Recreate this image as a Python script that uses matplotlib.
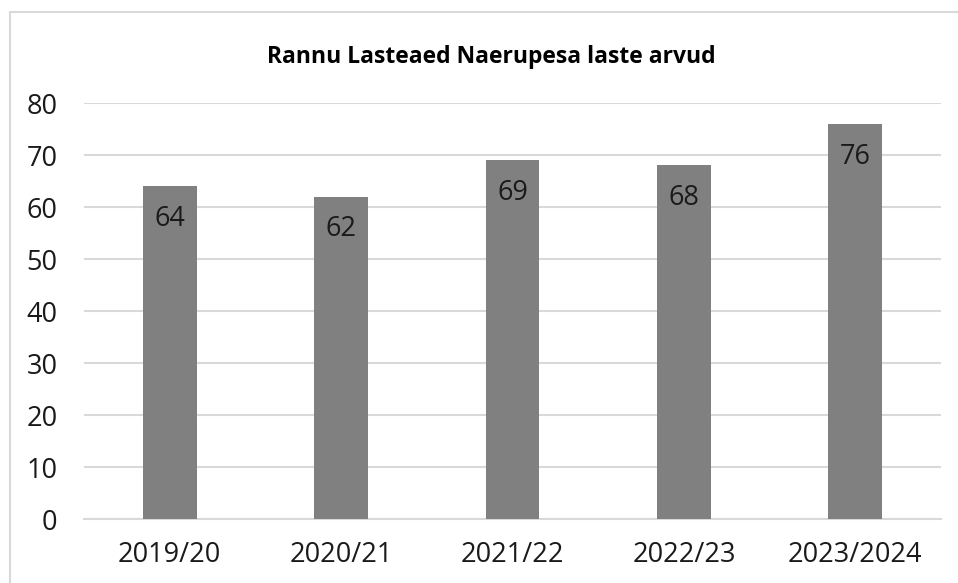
import matplotlib.pyplot as plt
from matplotlib.patches import Rectangle

# data
years = ['2019/20', '2020/21', '2021/22', '2022/23', '2023/2024']
children = [64, 62, 69, 68, 76]
title = 'Rannu Lasteaed Naerupesa laste arvud'

plt.rcParams['font.family'] = ['Open Sans', 'DejaVu Sans']

W, H = 958, 583
fig = plt.figure(figsize=(W / 100, H / 100), dpi=100)

# outer chart frame (light grey), runs off right/bottom edge
fig.patches.append(Rectangle((9.5 / W, -0.05), 1.1, 1 - 12.5 / H + 0.05,
                             transform=fig.transFigure, fill=False,
                             edgecolor='#d9d9d9', linewidth=1.5))

ax = fig.add_axes([84 / W, 1 - 519 / H, (941 - 84) / W, (519 - 103) / H])
x = range(len(years))
bars = ax.bar(x, children, width=0.315, color='#808080', zorder=3)

for b, v in zip(bars, children):
    ax.text(b.get_x() + b.get_width() / 2, v - 6.3, str(v), ha='center', va='center',
            fontsize=19.5, color='#1a1a1a', zorder=4)

ax.set_xlim(-0.5, len(years) - 0.5)
ax.set_ylim(0, 80)
ax.set_yticks(range(0, 81, 10))
ax.set_xticks(list(x))
ax.set_xticklabels(years)
ax.tick_params(axis='both', length=0, labelsize=19.5, colors='#1a1a1a')
ax.tick_params(axis='y', pad=19)
ax.tick_params(axis='x', pad=16)

ax.grid(axis='y', color='#d9d9d9', linewidth=1.5, zorder=0)
for s in ['top', 'right', 'left']:
    ax.spines[s].set_visible(False)
ax.spines['bottom'].set_color('#d9d9d9')
ax.spines['bottom'].set_linewidth(1.5)

fig.text(491 / W, 1 - 57 / H, title, ha='center', va='center',
         fontsize=16.5, fontweight='bold', color='#000000')

plt.savefig('out.png', dpi=100)
